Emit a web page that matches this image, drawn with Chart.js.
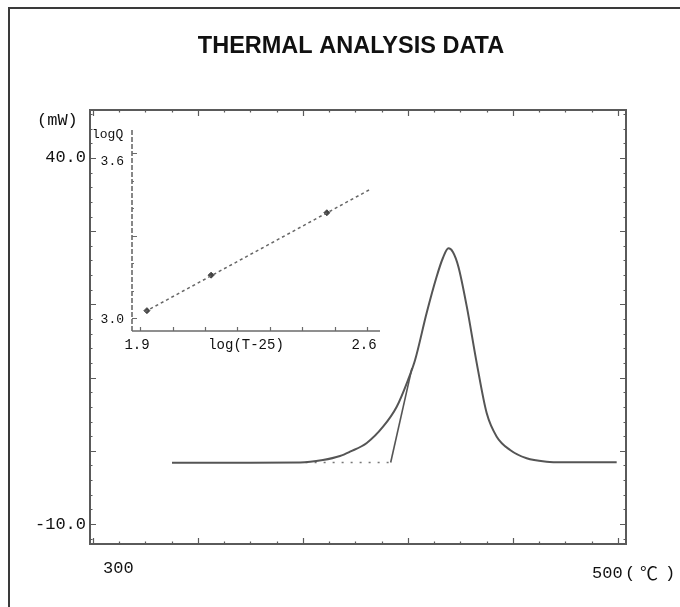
<!DOCTYPE html>
<html>
<head>
<meta charset="utf-8">
<script src="https://cdn.jsdelivr.net/npm/chart.js@4.4.1/dist/chart.umd.min.js"></script>
<style>
  html, body { margin: 0; padding: 0; background: #fff; }
  #wrap { position: relative; width: 680px; height: 607px; }
  #main { position: absolute; left: 0; top: 0; }
  #inset { position: absolute; left: 90px; top: 112px; }
</style>
</head>
<body>
<div id="wrap">
  <canvas id="main" width="680" height="607"></canvas>
  <canvas id="inset" width="310" height="250"></canvas>
</div>
<script>
// ---- main DSC curve (temperature in °C, heat flow in mW) ----
const tempC    = [330.1, 360.0, 378.9, 387.6, 394.1, 397.9, 404.3, 410.5, 415.7, 420.0, 422.7, 427.1, 430.9, 433.3, 435.4, 437.1, 439.2, 442.4, 446.2, 450.0, 453.8, 458.9, 465.2, 472.8, 479.0, 499.5];
const heatFlow = [-1.63, -1.62, -1.60, -1.26, -0.71, -0.12, 1.07, 3.29, 6.02, 9.67, 12.40, 18.83, 23.78, 26.34, 27.66, 27.16, 25.15, 19.69, 11.95, 5.12, 1.93, 0.11, -1.02, -1.49, -1.57, -1.57];
// onset tangent and extrapolated baseline
const tangentT  = [413.4, 421.5];
const tangentQ  = [-1.60, 11.30];
const baselineT = [381.0, 413.4];
const baselineQ = [-1.60, -1.60];
// ---- inset: log Q vs log(T-25) ----
const logT    = [1.921, 2.119, 2.476];
const logQ    = [3.027, 3.156, 3.383];
const fitLogT = [1.915, 2.608];
const fitLogQ = [3.023, 3.467];
// ---- tick labels ----
const yTickValues = [40, -10];
const yTickLabels = ['40.0', '-10.0'];
const xTickLabels = ['300', '500'];
const xUnitLabel = ['(', '℃', ')'];
const insetYTickValues = [3.6, 3.0];
const insetYTickLabels = ['3.6', '3.0'];
const insetXTickLabels = ['1.9', '2.6'];

const pts = (xs, ys) => xs.map((v, i) => ({x: v, y: ys[i]}));
const AX = '#5a5a5a';
const LINE = '#555';
const MONO = "'Liberation Mono', 'Noto Sans CJK JP', monospace";

const mainDecor = {
  id: 'mainDecor',
  beforeDatasetsDraw(chart) {
    const {ctx, chartArea: a, scales: {x, y}} = chart;
    ctx.save();
    // outer frame
    ctx.strokeStyle = '#3a3a3a'; ctx.lineWidth = 2;
    ctx.beginPath(); ctx.moveTo(9, 607); ctx.lineTo(9, 8); ctx.lineTo(680, 8); ctx.stroke();
    // plot box
    ctx.strokeStyle = AX; ctx.lineWidth = 2;
    ctx.strokeRect(a.left, a.top, a.right - a.left, a.bottom - a.top);
    ctx.lineWidth = 1.2;
    ctx.beginPath();
    for (let v = -12; v <= 46; v += 2) {
      const p = Math.round(y.getPixelForValue(v)) + 0.5;
      const len = (v % 10 === 0) ? 6 : 2.5;
      ctx.moveTo(a.left, p); ctx.lineTo(a.left + len, p);
      ctx.moveTo(a.right, p); ctx.lineTo(a.right - len, p);
    }
    for (let v = 300; v <= 500; v += 10) {
      const p = Math.round(x.getPixelForValue(v)) + 0.5;
      const len = ((v - 300) % 40 === 0) ? 6 : 2.5;
      ctx.moveTo(p, a.bottom); ctx.lineTo(p, a.bottom - len);
      ctx.moveTo(p, a.top); ctx.lineTo(p, a.top + len);
    }
    ctx.stroke();
    ctx.restore();
  },
  afterDraw(chart) {
    const {ctx, scales: {x, y}} = chart;
    ctx.save();
    ctx.fillStyle = '#111';
    ctx.font = "bold 23.5px 'Liberation Sans', Arial, sans-serif";
    ctx.textAlign = 'center'; ctx.textBaseline = 'middle';
    ctx.fillText('THERMAL ANALYSIS DATA', 351, 47);
    ctx.font = '17px ' + MONO;
    ctx.textAlign = 'right';
    yTickValues.forEach((v, i) => ctx.fillText(yTickLabels[i], 86, y.getPixelForValue(v)));
    ctx.textAlign = 'left';
    ctx.fillText('(mW)', 37, 120);
    ctx.fillText(xTickLabels[0], 103, 568);
    ctx.fillText(xTickLabels[1], 592, 573);
    ctx.textAlign = 'center';
    ctx.fillText(xUnitLabel[0], 630, 573);
    ctx.font = "18px 'Noto Sans CJK JP', sans-serif";
    ctx.fillText(xUnitLabel[1], 649, 573);
    ctx.font = '17px ' + MONO;
    ctx.fillText(xUnitLabel[2], 670, 573);
    ctx.restore();
  }
};

new Chart(document.getElementById('main'), {
  type: 'scatter',
  data: {
    datasets: [
      { data: pts(tempC, heatFlow), showLine: true, borderColor: LINE, borderWidth: 2, pointRadius: 0, cubicInterpolationMode: 'monotone' },
      { data: pts(tangentT, tangentQ), showLine: true, borderColor: LINE, borderWidth: 1.6, pointRadius: 0 },
      { data: pts(baselineT, baselineQ), showLine: true, borderColor: '#777', borderWidth: 1.6, borderDash: [2, 7], pointRadius: 0 }
    ]
  },
  options: {
    responsive: false, animation: false, devicePixelRatio: 1,
    layout: { padding: { left: 90, top: 110, right: 54, bottom: 63 } },
    plugins: { legend: { display: false }, tooltip: { enabled: false }, title: { display: false } },
    scales: {
      x: { type: 'linear', display: false, min: 298.857, max: 503.05 },
      y: { type: 'linear', display: false, min: -12.732, max: 46.557 }
    }
  },
  plugins: [mainDecor]
});

const insetDecor = {
  id: 'insetDecor',
  beforeDatasetsDraw(chart) {
    const {ctx, chartArea: a, scales: {x, y}} = chart;
    ctx.save();
    ctx.strokeStyle = '#6a6a6a'; ctx.lineWidth = 1.6;
    ctx.setLineDash([5, 2]);
    ctx.beginPath(); ctx.moveTo(a.left, a.top); ctx.lineTo(a.left, a.bottom); ctx.stroke();
    ctx.setLineDash([]);
    ctx.beginPath(); ctx.moveTo(a.left, a.bottom); ctx.lineTo(a.right, a.bottom); ctx.stroke();
    ctx.lineWidth = 1.2;
    ctx.beginPath();
    for (let k = 0; k <= 6; k++) {
      const v = 3.0 + k * 0.1;
      const p = Math.round(y.getPixelForValue(v)) + 0.5;
      const len = (k % 3 === 0) ? 5 : 2;
      ctx.moveTo(a.left, p); ctx.lineTo(a.left + len, p);
    }
    for (let k = 0; k <= 7; k++) {
      const v = 1.9 + k * 0.1;
      const p = Math.round(x.getPixelForValue(v)) + 0.5;
      ctx.moveTo(p, a.bottom); ctx.lineTo(p, a.bottom - 4);
    }
    ctx.stroke();
    ctx.restore();
  },
  afterDraw(chart) {
    const {ctx, scales: {x, y}} = chart;
    ctx.save();
    ctx.fillStyle = '#111';
    ctx.font = '13px ' + MONO;
    ctx.textBaseline = 'middle';
    ctx.textAlign = 'left';
    ctx.fillText('logQ', 2, 23);
    ctx.textAlign = 'right';
    ctx.fillText(insetYTickLabels[0], 34, y.getPixelForValue(insetYTickValues[0]) + 8);
    ctx.fillText(insetYTickLabels[1], 34, y.getPixelForValue(insetYTickValues[1]) + 1);
    ctx.font = '14px ' + MONO;
    ctx.textAlign = 'center';
    ctx.fillText(insetXTickLabels[0], 47, 233);
    ctx.fillText('log(T-25)', 156, 233);
    ctx.fillText(insetXTickLabels[1], 274, 233);
    ctx.restore();
  }
};

new Chart(document.getElementById('inset'), {
  type: 'scatter',
  data: {
    datasets: [
      { data: pts(fitLogT, fitLogQ), showLine: true, borderColor: '#666', borderWidth: 1.5, borderDash: [3, 3], pointRadius: 0 },
      { data: pts(logT, logQ), showLine: false, pointStyle: 'rectRot', pointRadius: 3, backgroundColor: '#444', borderColor: '#444', borderWidth: 1 }
    ]
  },
  options: {
    responsive: false, animation: false, devicePixelRatio: 1,
    layout: { padding: { left: 42, top: 18, right: 20, bottom: 31 } },
    plugins: { legend: { display: false }, tooltip: { enabled: false } },
    scales: {
      x: { type: 'linear', display: false, min: 1.875, max: 2.640 },
      y: { type: 'linear', display: false, min: 2.953, max: 3.684 }
    }
  },
  plugins: [insetDecor]
});
</script>
</body>
</html>
